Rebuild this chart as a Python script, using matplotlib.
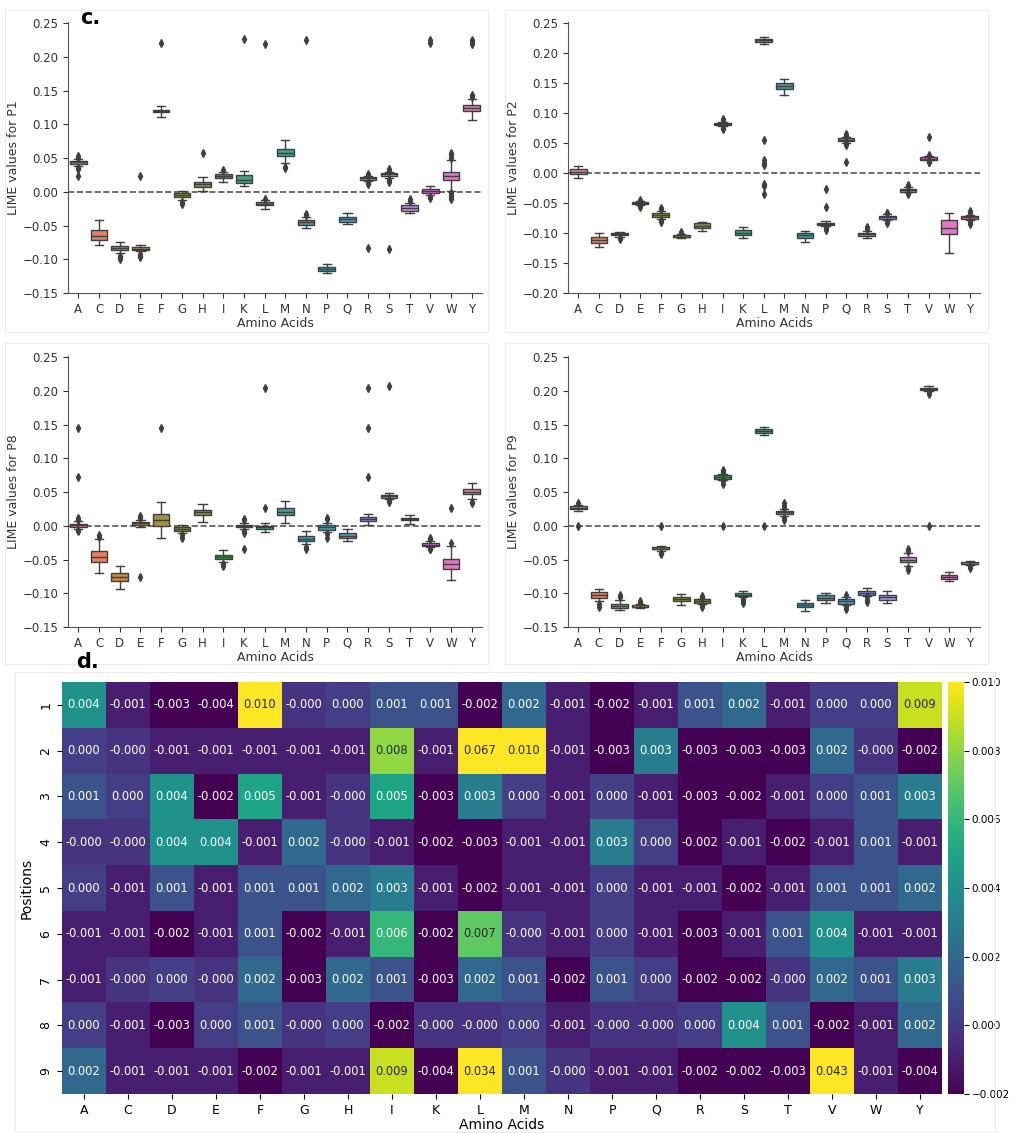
import matplotlib
matplotlib.use("Agg")
import matplotlib.pyplot as plt
from matplotlib.patches import Rectangle
import numpy as np
import seaborn as sns

amino = list("ACDEFGHIKLMNPQRSTVWY")
positions = [str(i) for i in range(1, 10)]

# ---- P1 box stats ----
p1_med = [0.044, -0.065, -0.083, -0.084, 0.120, -0.005, 0.011, 0.023, 0.018, -0.018, 0.058, -0.045, -0.115, -0.040, 0.020, 0.026, -0.024, 0.002, 0.024, 0.124]
p1_q1 = [0.041, -0.071, -0.086, -0.086, 0.118, -0.008, 0.007, 0.020, 0.013, -0.020, 0.053, -0.049, -0.118, -0.044, 0.018, 0.023, -0.028, -0.001, 0.018, 0.120]
p1_q3 = [0.046, -0.057, -0.080, -0.082, 0.122, -0.001, 0.015, 0.026, 0.025, -0.015, 0.064, -0.042, -0.112, -0.038, 0.022, 0.028, -0.020, 0.004, 0.030, 0.129]
p1_lo = [0.038, -0.079, -0.090, -0.088, 0.111, -0.012, 0.002, 0.014, 0.009, -0.025, 0.043, -0.053, -0.121, -0.047, 0.016, 0.021, -0.032, -0.004, 0.001, 0.106]
p1_hi = [0.049, -0.042, -0.075, -0.079, 0.128, 0.002, 0.022, 0.029, 0.031, -0.012, 0.077, -0.038, -0.107, -0.031, 0.023, 0.029, -0.016, 0.009, 0.047, 0.138]
p1_fl = [[0.053, 0.051, 0.036, 0.034, 0.023], [], [-0.095, -0.097, -0.100], [-0.092, -0.095, -0.097, 0.023],
         [0.221], [-0.015, -0.018], [0.058], [0.033], [0.227], [-0.010, 0.220], [0.037, 0.035],
         [-0.033, -0.035, 0.225], [], [], [0.026, 0.024, 0.013, 0.011, -0.083], [0.034, 0.031, 0.018, 0.015, -0.085],
         [-0.011, -0.013], [-0.007, -0.009, 0.221, 0.226], [0.051, 0.055, 0.058, -0.001, -0.004, -0.007, -0.010],
         [0.143, 0.141, 0.220, 0.223, 0.226]]

# ---- P2 box stats ----
p2_med = [0.002, -0.112, -0.102, -0.050, -0.070, -0.106, -0.088, 0.082, -0.100, 0.222, 0.145, -0.104, -0.085, 0.055, -0.102, -0.073, -0.028, 0.024, -0.092, -0.074]
p2_q1 = [-0.002, -0.117, -0.104, -0.051, -0.073, -0.107, -0.092, 0.080, -0.103, 0.219, 0.140, -0.108, -0.087, 0.053, -0.105, -0.076, -0.031, 0.022, -0.102, -0.077]
p2_q3 = [0.006, -0.106, -0.100, -0.048, -0.066, -0.104, -0.084, 0.084, -0.095, 0.224, 0.150, -0.100, -0.083, 0.058, -0.100, -0.071, -0.026, 0.026, -0.078, -0.072]
p2_lo = [-0.009, -0.124, -0.106, -0.053, -0.076, -0.109, -0.097, 0.078, -0.108, 0.216, 0.130, -0.115, -0.088, 0.051, -0.108, -0.078, -0.032, 0.021, -0.134, -0.079]
p2_hi = [0.011, -0.100, -0.098, -0.047, -0.063, -0.102, -0.081, 0.086, -0.090, 0.227, 0.157, -0.096, -0.080, 0.060, -0.097, -0.069, -0.024, 0.028, -0.066, -0.070]
p2_fl = [[], [], [-0.109, -0.110], [-0.045, -0.054, -0.056], [-0.058, -0.060, -0.078, -0.081], [-0.098, -0.100], [],
         [0.088, 0.090, 0.076, 0.073], [], [0.055, 0.021, 0.016, 0.013, -0.019, -0.021, -0.035], [], [],
         [-0.027, -0.056, -0.090, -0.092, -0.095], [0.062, 0.065, 0.050, 0.047, 0.018], [-0.090, -0.094],
         [-0.066, -0.067, -0.081, -0.083], [-0.022, -0.020, -0.033, -0.035], [0.061, 0.030, 0.019, 0.018], [],
         [-0.064, -0.067, -0.082, -0.085]]

# ---- P8 box stats ----
p8_med = [0.002, -0.046, -0.076, 0.004, 0.008, -0.004, 0.020, -0.046, 0.000, -0.002, 0.021, -0.019, -0.002, -0.015, 0.010, 0.044, 0.010, -0.028, -0.056, 0.051]
p8_q1 = [-0.001, -0.053, -0.082, 0.002, 0.000, -0.007, 0.016, -0.049, -0.001, -0.004, 0.016, -0.022, -0.006, -0.018, 0.007, 0.042, 0.008, -0.030, -0.064, 0.047]
p8_q3 = [0.003, -0.038, -0.070, 0.006, 0.017, -0.001, 0.024, -0.043, 0.002, 0.000, 0.026, -0.015, 0.001, -0.011, 0.013, 0.046, 0.012, -0.025, -0.049, 0.055]
p8_lo = [-0.004, -0.070, -0.094, -0.002, -0.018, -0.010, 0.006, -0.053, -0.004, -0.009, 0.004, -0.027, -0.009, -0.022, 0.002, 0.040, 0.003, -0.032, -0.080, 0.040]
p8_hi = [0.007, -0.020, -0.060, 0.009, 0.036, 0.002, 0.033, -0.036, 0.005, 0.005, 0.037, -0.008, 0.004, -0.004, 0.018, 0.049, 0.016, -0.022, -0.030, 0.064]
p8_fl = [[0.145, 0.072, 0.011, 0.009, -0.006, -0.008], [-0.014, -0.016], [], [0.012, 0.014, -0.076], [0.145],
         [-0.014, -0.018], [], [-0.057, -0.060], [0.008, 0.010, -0.007, -0.010, -0.034], [0.026, 0.204], [],
         [-0.031, -0.034], [0.010, 0.012, -0.012, -0.018], [], [0.072, 0.145, 0.205], [0.038, 0.035, 0.207], [],
         [-0.018, -0.020, -0.034, -0.035], [-0.025, 0.026], [0.036, 0.034]]

# ---- P9 box stats ----
p9_med = [0.027, -0.103, -0.119, -0.120, -0.034, -0.108, -0.111, 0.072, -0.102, 0.141, 0.020, -0.118, -0.107, -0.112, -0.099, -0.106, -0.050, 0.203, -0.076, -0.056]
p9_q1 = [0.025, -0.107, -0.122, -0.121, -0.035, -0.112, -0.114, 0.070, -0.104, 0.138, 0.017, -0.121, -0.110, -0.116, -0.102, -0.110, -0.054, 0.201, -0.079, -0.057]
p9_q3 = [0.029, -0.098, -0.116, -0.118, -0.032, -0.105, -0.109, 0.075, -0.100, 0.144, 0.022, -0.114, -0.103, -0.108, -0.096, -0.103, -0.046, 0.205, -0.073, -0.054]
p9_lo = [0.022, -0.112, -0.125, -0.122, -0.037, -0.118, -0.116, 0.068, -0.106, 0.135, 0.014, -0.127, -0.115, -0.118, -0.104, -0.114, -0.059, 0.200, -0.082, -0.058]
p9_hi = [0.031, -0.093, -0.110, -0.116, -0.030, -0.101, -0.108, 0.077, -0.097, 0.147, 0.025, -0.110, -0.099, -0.105, -0.092, -0.097, -0.040, 0.207, -0.069, -0.052]
p9_fl = [[0.034, 0.000], [-0.116, -0.120], [-0.103, -0.106], [-0.112, -0.114], [-0.040, -0.042, 0.000], [],
         [-0.104, -0.106, -0.118, -0.120], [0.080, 0.083, 0.066, 0.062, 0.000], [-0.108, -0.112, -0.114], [0.000],
         [0.027, 0.030, 0.034, 0.011, 0.008], [], [], [-0.102, -0.120, -0.124], [-0.106, -0.110, -0.113], [],
         [-0.035, -0.037, -0.063, -0.065], [0.198, 0.195, 0.000], [], [-0.060, -0.062]]

# ---- heatmap (mean LIME per position x amino acid) ----
heat = np.array([
    [0.004, -0.001, -0.003, -0.004, 0.010, -0.0002, 0.0002, 0.001, 0.001, -0.002, 0.002, -0.001, -0.002, -0.001, 0.001, 0.002, -0.001, 0.0002, 0.0002, 0.009],
    [0.0002, -0.0002, -0.001, -0.001, -0.001, -0.001, -0.001, 0.008, -0.001, 0.067, 0.010, -0.001, -0.003, 0.003, -0.003, -0.003, -0.003, 0.002, -0.0002, -0.002],
    [0.001, 0.0002, 0.004, -0.002, 0.005, -0.001, -0.0002, 0.005, -0.003, 0.003, 0.0002, -0.001, 0.0002, -0.001, -0.003, -0.002, -0.001, 0.0002, 0.001, 0.003],
    [-0.0002, -0.0002, 0.004, 0.004, -0.001, 0.002, -0.0002, -0.001, -0.002, -0.003, -0.001, -0.001, 0.003, 0.0002, -0.002, -0.001, -0.002, -0.001, 0.001, -0.001],
    [0.0002, -0.001, 0.001, -0.001, 0.001, 0.001, 0.002, 0.003, -0.001, -0.002, -0.001, -0.001, 0.0002, -0.001, -0.001, -0.002, -0.001, 0.001, 0.001, 0.002],
    [-0.001, -0.001, -0.002, -0.001, 0.001, -0.002, -0.001, 0.006, -0.002, 0.007, -0.0002, -0.001, 0.0002, -0.001, -0.003, -0.001, 0.001, 0.004, -0.001, -0.001],
    [-0.001, -0.0002, 0.0002, -0.0002, 0.002, -0.003, 0.002, 0.001, -0.003, 0.002, 0.001, -0.002, 0.001, 0.0002, -0.002, -0.002, -0.0002, 0.002, 0.001, 0.003],
    [0.0002, -0.001, -0.003, 0.0002, 0.001, -0.0002, 0.0002, -0.002, -0.0002, -0.0002, 0.0002, -0.001, -0.0002, -0.0002, 0.0002, 0.004, 0.001, -0.002, -0.001, 0.002],
    [0.002, -0.001, -0.001, -0.001, -0.002, -0.001, -0.001, 0.009, -0.004, 0.034, 0.001, -0.0002, -0.001, -0.001, -0.002, -0.002, -0.003, 0.043, -0.001, -0.004],
])

W, H = 1014, 1133
fig = plt.figure(figsize=(W / 100, H / 100), dpi=100)

pal = [sns.desaturate(c, 0.75) for c in sns.color_palette("husl", 20)]
line_col = "#3f3f3f"


def px(x0, y0, x1, y1):
    # pixel box -> figure rect
    return [x0 / W, 1 - y1 / H, (x1 - x0) / W, (y1 - y0) / H]


def box_panel(rect, med, q1, q3, lo, hi, fl, label, ylim, yticks):
    ax = fig.add_axes(rect)
    stats = []
    for i in range(len(amino)):
        stats.append(dict(med=med[i], q1=q1[i], q3=q3[i], whislo=lo[i], whishi=hi[i], fliers=fl[i]))
    bp = ax.bxp(stats, positions=range(len(amino)), widths=0.8, patch_artist=True,
                boxprops=dict(edgecolor=line_col, linewidth=1.0),
                whiskerprops=dict(color=line_col, linewidth=1.0),
                capprops=dict(color=line_col, linewidth=1.0),
                medianprops=dict(color=line_col, linewidth=1.0),
                flierprops=dict(marker="d", markersize=4, markerfacecolor=line_col,
                                markeredgecolor=line_col))
    for patch, c in zip(bp["boxes"], pal):
        patch.set_facecolor(c)
    ax.axhline(0, color="#555555", linestyle="--", linewidth=1.2, zorder=0)
    ax.set_xlim(-0.5, len(amino) - 0.5)
    ax.set_ylim(*ylim)
    ax.set_yticks(yticks)
    ax.set_xticks(range(len(amino)))
    ax.set_xticklabels(amino)
    ax.tick_params(labelsize=8.5, colors="#333333")
    ax.set_xlabel("Amino Acids", fontsize=9, color="#333333", labelpad=1)
    ax.set_ylabel(label, fontsize=9, color="#333333", labelpad=2)
    for s in ["top", "right"]:
        ax.spines[s].set_visible(False)
    for s in ["left", "bottom"]:
        ax.spines[s].set_color("#555555")
    return ax


yt1 = np.round(np.arange(-0.15, 0.26, 0.05), 2)
yt2 = np.round(np.arange(-0.20, 0.26, 0.05), 2)

# faint frames around the panels
for r in [(5, 10, 488, 332), (505, 10, 988, 332), (5, 343, 488, 664), (505, 343, 988, 664), (15, 672, 995, 1132)]:
    x0, y0, x1, y1 = r
    fig.add_artist(Rectangle((x0 / W, 1 - y1 / H), (x1 - x0) / W, (y1 - y0) / H,
                             transform=fig.transFigure, fill=False, edgecolor="#ececec", linewidth=0.8))

box_panel(px(68, 22, 482, 293), p1_med, p1_q1, p1_q3, p1_lo, p1_hi, p1_fl,
          "LIME values for P1", (-0.15, 0.252), yt1)
box_panel(px(568, 22, 980, 293), p2_med, p2_q1, p2_q3, p2_lo, p2_hi, p2_fl,
          "LIME values for P2", (-0.20, 0.252), yt2)
box_panel(px(68, 356, 482, 627), p8_med, p8_q1, p8_q3, p8_lo, p8_hi, p8_fl,
          "LIME values for P8", (-0.15, 0.252), yt1)
box_panel(px(568, 356, 980, 627), p9_med, p9_q1, p9_q3, p9_lo, p9_hi, p9_fl,
          "LIME values for P9", (-0.15, 0.252), yt1)

# heatmap
axh = fig.add_axes(px(62, 682, 942, 1094))
cax = fig.add_axes(px(948, 682, 964, 1094))
sns.heatmap(heat, annot=True, fmt=".3f", cmap="viridis", vmin=-0.002, vmax=0.010,
            xticklabels=amino, yticklabels=positions, ax=axh, cbar_ax=cax,
            annot_kws={"size": 8.3})
axh.tick_params(labelsize=9)
axh.set_xlabel("Amino Acids", fontsize=10, labelpad=1)
axh.set_ylabel("Positions", fontsize=10)
cax.tick_params(labelsize=7.5, pad=2)

fig.text(80 / W, 1 - 24 / H, "c.", fontsize=15, fontweight="bold")
fig.text(76 / W, 1 - 668 / H, "d.", fontsize=15, fontweight="bold")

fig.savefig("out.png", dpi=100)
